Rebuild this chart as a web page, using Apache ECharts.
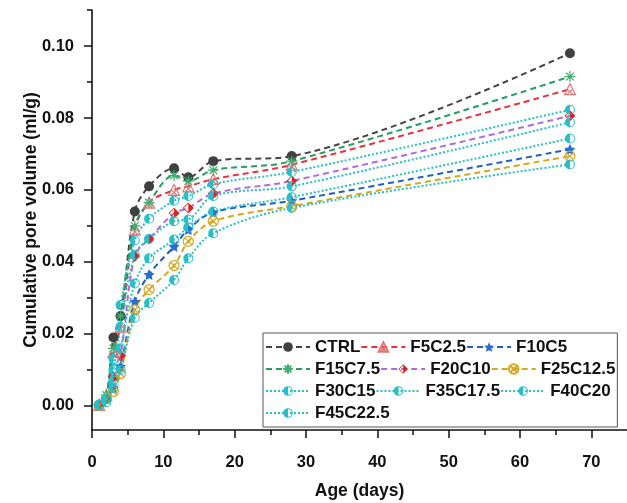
<!DOCTYPE html>
<html>
<head>
<meta charset="utf-8">
<script src="https://cdn.jsdelivr.net/npm/echarts@6/dist/echarts.min.js"></script>
<style>
  html, body { margin: 0; padding: 0; background: #fff; }
  #chart { width: 627px; height: 503px; }
</style>
</head>
<body>
<div id="chart"></div>
<script>
// ages in days (x) and cumulative pore volume (ml/g) per mix
const days = [1, 2, 3, 4, 6, 8, 11.5, 13.5, 17, 28, 67]
const ctrl = [0.0002, 0.002, 0.019, 0.025, 0.054, 0.061, 0.066, 0.0635, 0.068, 0.0694, 0.098]
const f5c25 = [0.0003, 0.003, 0.015, 0.022, 0.049, 0.0565, 0.060, 0.061, 0.063, 0.067, 0.088]
const f10c5 = [0.0002, 0.002, 0.005, 0.011, 0.029, 0.0365, 0.0443, 0.049, 0.0538, 0.057, 0.0713]
const f15c75 = [0.0003, 0.003, 0.016, 0.025, 0.050, 0.0565, 0.064, 0.0625, 0.0655, 0.068, 0.0915]
const f20c10 = [0.0002, 0.002, 0.008, 0.014, 0.0416, 0.0464, 0.0535, 0.055, 0.059, 0.0625, 0.0806]
const f25c125 = [0.0002, 0.002, 0.004, 0.009, 0.0267, 0.0323, 0.039, 0.0457, 0.0513, 0.0555, 0.0694]
const f30c15 = [0.0003, 0.002, 0.013, 0.028, 0.046, 0.052, 0.057, 0.0583, 0.0616, 0.065, 0.0823]
const f35c175 = [0.0003, 0.002, 0.010, 0.022, 0.042, 0.0464, 0.0513, 0.0518, 0.0583, 0.061, 0.0788]
const f40c20 = [0.0002, 0.002, 0.007, 0.016, 0.034, 0.041, 0.0462, 0.0496, 0.054, 0.058, 0.0743]
const f45c225 = [0.0002, 0.001, 0.005, 0.010, 0.0245, 0.0286, 0.035, 0.041, 0.048, 0.055, 0.0671]

const xLabels = [0, 10, 20, 30, 40, 50, 60, 70]
const xMinor = [5, 15, 25, 35, 45, 55, 65]
const yLabels = [0, 0.02, 0.04, 0.06, 0.08, 0.1]
const yMinor = [0.01, 0.03, 0.05, 0.07, 0.09, 0.11]

const FONT = '"Liberation Sans", Arial, sans-serif'

const sym = {
  triX: 'path://M0,-10L10,8L-10,8ZM-6,-2L6,8M6,-2L-6,8',
  star: 'path://M0,-10L2.9,-4L9.5,-3.1L4.8,1.5L5.9,8.1L0,5L-5.9,8.1L-4.8,1.5L-9.5,-3.1L-2.9,-4Z',
  aster: 'path://M0,-10L0,10M-10,0L10,0M-7,-7L7,7M-7,7L7,-7',
  halfDiamond: 'path://M0,-10L10,0L0,10L-10,0ZM0,-8L-8,0L0,8L8,0ZM0,-8L8,0L0,8Z',
  circX: 'path://M10,0A10,10,0,1,1,-10,0A10,10,0,1,1,10,0ZM-7,-7L7,7M-7,7L7,-7',
  halfCircle: 'path://M0,-10A10,10,0,1,1,0,10A10,10,0,1,1,0,-10ZM0,-8A8,8,0,1,0,0,8A8,8,0,1,0,0,-8ZM0,-8A8,8,0,0,0,0,8Z'
}

const cyan = '#27bfc9'

function mk(name, vals, lineColor, lineType, symbol, fill, stroke, size) {
  return {
    name: name,
    type: 'line',
    smooth: 0.35,
    data: days.map((d, i) => [d, vals[i]]),
    symbol: symbol,
    symbolSize: size || 10,
    lineStyle: { color: lineColor, width: 2, type: lineType },
    itemStyle: {
      color: fill,
      borderColor: stroke || fill,
      borderWidth: stroke ? 1.2 : 0
    },
    z: 2
  }
}

const dash = [6, 4]
const dot = [2, 2]

const series = [
  mk('CTRL', ctrl, '#444444', dash, 'circle', '#404040', null, 10),
  mk('F5C2.5', f5c25, '#e8323c', dash, sym.triX, 'rgba(0,0,0,0)', '#e07a7a', 11),
  mk('F10C5', f10c5, '#1f5fbf', dash, sym.star, '#2a6dd0', null, 11),
  mk('F15C7.5', f15c75, '#23a05e', dash, sym.aster, 'rgba(0,0,0,0)', '#3fae70', 11),
  mk('F20C10', f20c10, '#b46ad6', dash, sym.halfDiamond, '#e01f1f', null, 11),
  mk('F25C12.5', f25c125, '#d5a81e', dash, sym.circX, 'rgba(0,0,0,0)', '#d5a81e', 10),
  mk('F30C15', f30c15, cyan, dot, sym.halfCircle, cyan, null, 10),
  mk('F35C17.5', f35c175, cyan, dot, sym.halfCircle, cyan, null, 10),
  mk('F40C20', f40c20, cyan, dot, sym.halfCircle, cyan, null, 10),
  mk('F45C22.5', f45c225, cyan, dot, sym.halfCircle, cyan, null, 10)
]

const axisLine = { show: true, onZero: false, lineStyle: { color: '#111', width: 1.6 } }
const labelStyle = { color: '#111', fontFamily: FONT, fontWeight: 'bold', fontSize: 16.5 }

const chart = echarts.init(document.getElementById('chart'))
chart.setOption({
  animation: false,
  backgroundColor: '#fff',
  grid: { left: 92, right: 0, top: 10, bottom: 73, containLabel: false, outerBoundsMode: 'none' },
  legend: {
    left: 263,
    top: 333,
    width: 352,
    orient: 'horizontal',
    padding: [3, 2, 3, 2],
    itemGap: 0,
    itemWidth: 44,
    itemHeight: 12,
    borderColor: '#555',
    borderWidth: 1,
    textStyle: { color: '#111', fontFamily: FONT, fontWeight: 'bold', fontSize: 17, lineHeight: 22 },
    data: series.map((s) => s.name)
  },
  xAxis: [
    {
      type: 'value',
      min: 0,
      max: 75,
      name: 'Age (days)',
      nameLocation: 'middle',
      nameGap: 52,
      nameMoveOverlap: false,
      nameTextStyle: { color: '#111', fontFamily: FONT, fontWeight: 'bold', fontSize: 17.5 },
      axisLine: axisLine,
      axisTick: { show: true, length: 8, customValues: xLabels, lineStyle: { color: '#111', width: 1.5 } },
      axisLabel: Object.assign({ margin: 24, customValues: xLabels }, labelStyle),
      splitLine: { show: false }
    },
    {
      type: 'value',
      min: 0,
      max: 75,
      position: 'bottom',
      axisLine: { show: false, onZero: false },
      axisTick: { show: true, length: 5, customValues: xMinor, lineStyle: { color: '#111', width: 1.5 } },
      axisLabel: { show: false },
      splitLine: { show: false }
    }
  ],
  yAxis: [
    {
      type: 'value',
      min: -0.0067,
      max: 0.11,
      name: 'Cumulative pore volume (ml/g)',
      nameLocation: 'middle',
      nameGap: 52,
      nameMoveOverlap: false,
      nameTextStyle: { color: '#111', fontFamily: FONT, fontWeight: 'bold', fontSize: 17.5 },
      axisLine: axisLine,
      axisTick: { show: true, length: 8, customValues: yLabels, lineStyle: { color: '#111', width: 1.5 } },
      axisLabel: Object.assign({
        margin: 18,
        customValues: yLabels,
        formatter: (v) => v.toFixed(2)
      }, labelStyle),
      splitLine: { show: false }
    },
    {
      type: 'value',
      min: -0.0067,
      max: 0.11,
      position: 'left',
      axisLine: { show: false, onZero: false },
      axisTick: { show: true, length: 5, customValues: yMinor, lineStyle: { color: '#111', width: 1.5 } },
      axisLabel: { show: false },
      splitLine: { show: false }
    }
  ],
  series: series
})
</script>
</body>
</html>
